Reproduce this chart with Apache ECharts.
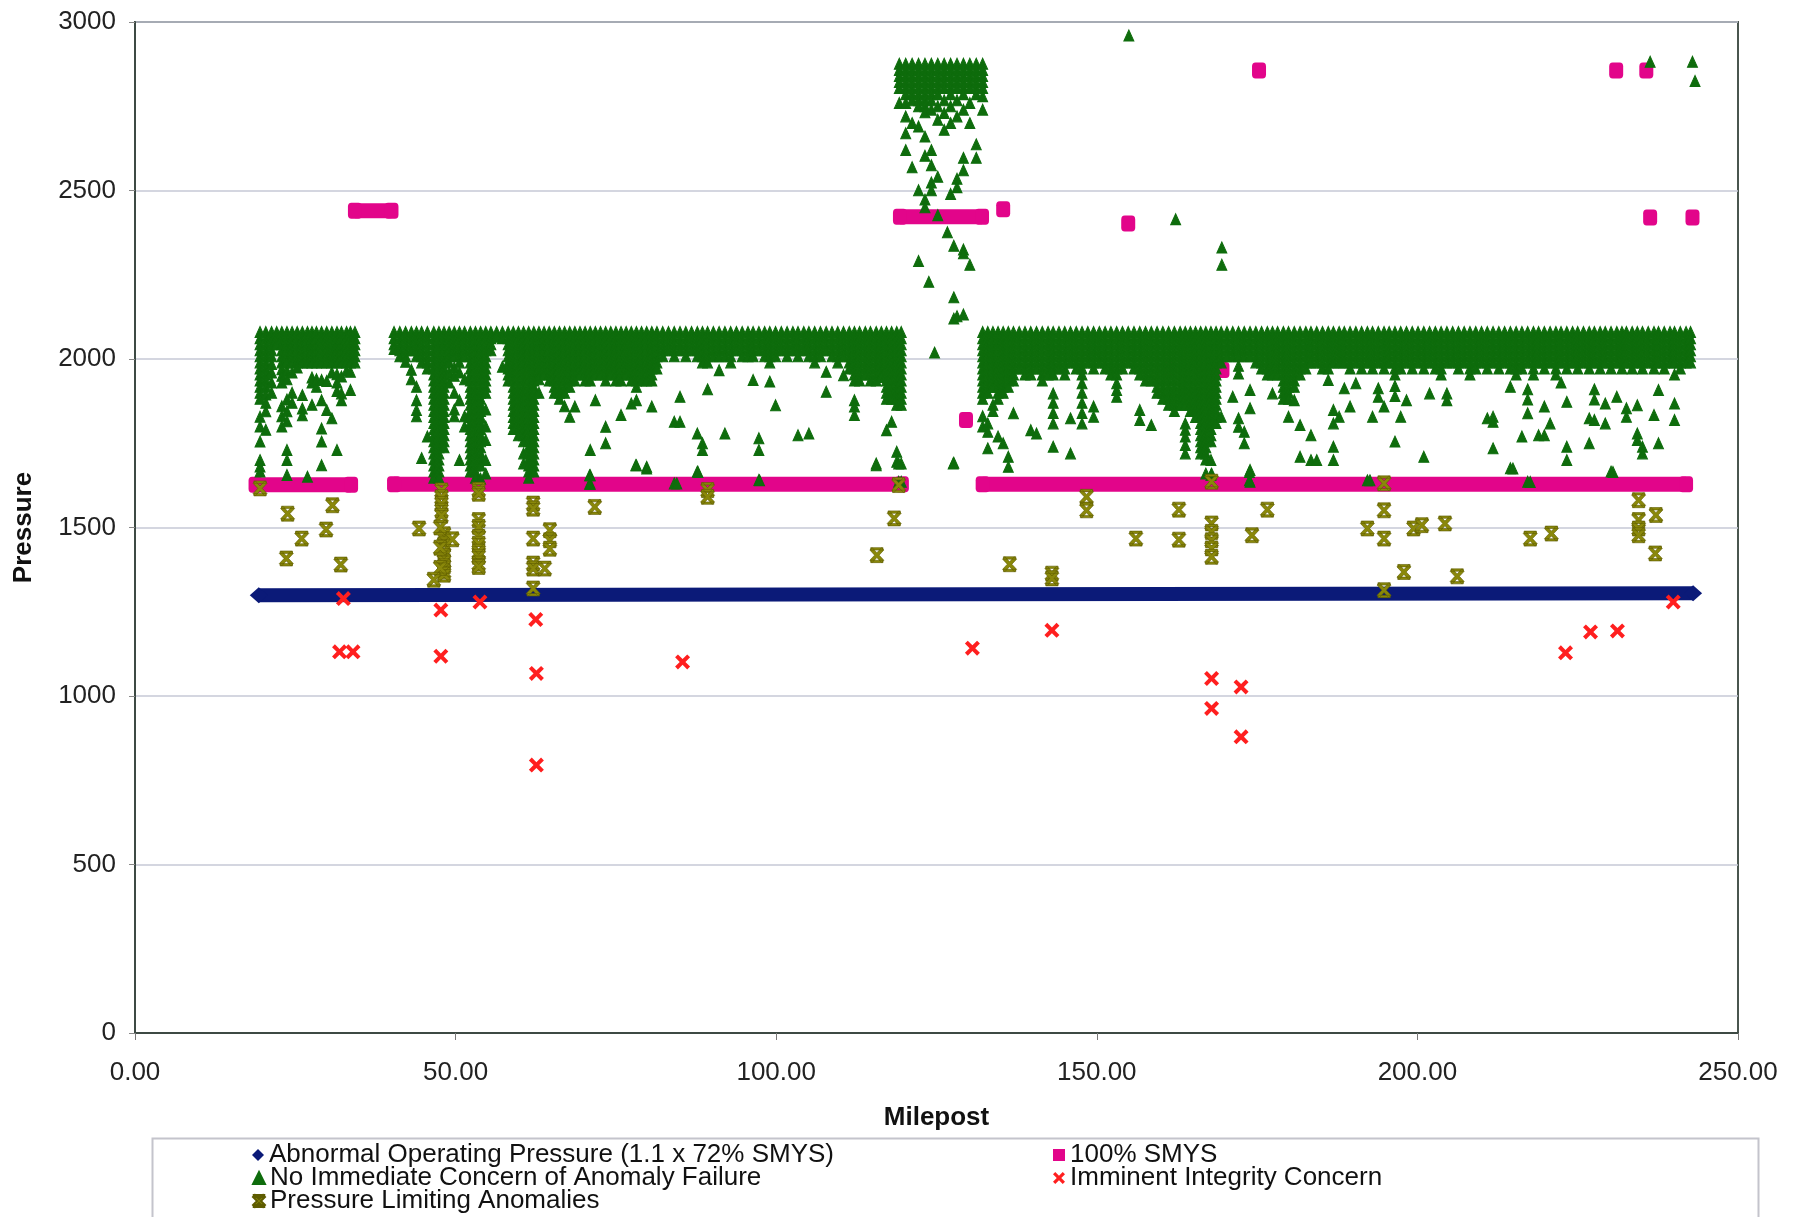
<!DOCTYPE html>
<html><head><meta charset="utf-8">
<script src="https://cdn.jsdelivr.net/npm/echarts@6/dist/echarts.min.js"></script>
<style>html,body{margin:0;padding:0;background:#fff}#c{width:1803px;height:1217px}</style>
</head><body><div id="c"></div>
<script>
// ---------- axis ticks ----------
const xTicks = [0, 50, 100, 150, 200, 250];
const yTicks = [0, 500, 1000, 1500, 2000, 2500, 3000];

// ---------- Abnormal Operating Pressure (1.1 x 72% SMYS) : continuous band ----------
const aopMilepost = [19.3, 243.0];
const aopPressure = [1299, 1305];

// ---------- 100% SMYS ----------
// continuous runs: [startMilepost, endMilepost, pressure]
const smysRuns = [[18.8, 33.7, 1627], [40.4, 119.6, 1628], [132.2, 241.9, 1628], [34.3, 40.0, 2440], [119.3, 132.1, 2422]];
// isolated points
const smysMilepost = [129.6, 135.4, 154.9, 175.3, 231.0, 235.7, 236.3, 242.9, 161.4, 169.6];
const smysPressure = [1819, 2444, 2402, 2856, 2856, 2856, 2420, 2420, 1967, 1967];

// ---------- No Immediate Concern of Anomaly Failure (columns: [milepost, pressures...]) ----------
const greenSec1 = [
[19.5,2080,2062,2044,2026,2008,1990,1972,1954,1936,1918,1900,1882,1829,1800,1755,1700,1681,1666],
[20.4,2080,2062,2044,2026,2008,1990,1972,1954,1936,1918,1895,1870,1845,1790],
[21.3,2080,2062,2044,2026,2008,1985,1960,1930,1900],
[22.1,2080,2062,2044],
[22.9,2080,2062,2044,2026,2008,1990,1970,1950,1930,1860,1830,1800],
[23.7,2080,2062,2044,2026,2008,1990,1965,1940,1880,1845,1815,1730,1700,1656],
[24.5,2080,2062,2044,2026,2008,1990,1960,1900,1870],
[25.3,2080,2062,2044,2026,2008,1990,1975],
[26.1,2080,2062,2044,2026,2008,1990,1893,1853,1833],
[26.9,2080,2062,2044,2026,2008,1990,1651],
[27.6,2080,2062,2044,2026,2008,1990,1945,1930,1864],
[28.3,2080,2062,2044,2026,2008,1990,1940,1918],
[29.1,2080,2062,2044,2026,2008,1990,1938,1878,1794,1755,1685],
[29.9,2080,2062,2044,2026,2008,1990,1935,1849],
[30.7,2080,2062,2044,2026,2008,1990,1960,1824],
[31.5,2080,2062,2044,2026,2008,1990,1955,1930,1905,1730],
[32.2,2080,2062,2044,2026,2008,1990,1948,1898,1878],
[33.0,2080,2062,2044,2026,2008,1990,1965],
[33.6,2080,2062,2044,2026,2008,1990,1962,1908],
[34.3,2080,2062,2044,2026,2008,1990]
];
const greenSec2 = [
[40.4,2080,2062,2044,2030],
[41.3,2080,2062,2044,2026,2008],
[42.2,2080,2062,2044,2026,2008,1992],
[43.1,2080,2062,2044,2026,1968,1940],
[43.9,2080,2062,2044,2026,2008,1918,1878,1849,1830],
[44.7,2080,2062,2044,2026,2008,1990,1706],
[45.6,2080,2062,2044,2026,2008,1990,1972,1770],
[46.6,2080,2062,2044,2026,2008,1990,1972,1954,1936,1918,1900,1882,1864,1846,1828,1810,1792,1774,1756,1738,1720,1702,1684,1666,1648],
[47.4,2080,2062,2044,2026,2008,1990,1972,1954,1936,1918,1900,1882,1864,1846,1828,1810,1792,1774,1756,1738,1720,1702,1684,1666,1648],
[48.2,2080,2062,2044,2026,2008,1990,1972,1954,1936,1918,1900,1882,1864,1846,1828,1810,1792,1774,1756,1738],
[49.0,2080,2062,2044,2026,2008,1990,1960,1930],
[49.8,2080,2062,2044,2026,2008,1975,1950,1900,1850,1830],
[50.6,2080,2062,2044,2026,2008,1990,1960,1878,1700],
[51.4,2080,2062,2044,2026,2008,1940,1830,1800],
[52.3,2080,2062,2044,2026,2008,1990,1972,1954,1936,1918,1900,1882,1864,1846,1828,1810,1792,1774,1756,1738,1720,1702,1684,1666],
[53.1,2080,2062,2044,2026,2008,1990,1972,1954,1936,1918,1900,1882,1864,1846,1828,1810,1792,1774,1756,1738,1720,1702,1684,1666,1648],
[53.9,2080,2062,2044,2026,2008,1990,1972,1954,1936,1918,1900,1882,1864,1846,1828,1810,1792,1774,1756,1738,1720,1702,1684,1645],
[54.7,2080,2062,2044,2026,2008,1990,1972,1954,1936,1918,1900,1850,1800,1760,1700,1660],
[55.5,2080,2062,2044,2026],
[56.4,2080,2066],
[57.3,2080,2062,1977],
[58.2,2080,2062,2044,2026,2008,1990,1972,1954,1936],
[59.0,2080,2062,2044,2026,2008,1990,1972,1954,1936,1918,1900,1882,1864,1846,1828,1810,1792],
[59.8,2080,2062,2044,2026,2008,1990,1972,1954,1936,1918,1900,1882,1864,1846,1828,1810,1792,1774],
[60.6,2080,2062,2044,2026,2008,1990,1972,1954,1936,1918,1900,1882,1864,1846,1828,1810,1792,1774,1756,1720,1690],
[61.4,2080,2062,2044,2026,2008,1990,1972,1954,1936,1918,1900,1882,1864,1846,1828,1810,1792,1774,1756,1738,1720,1702,1684,1666,1648],
[62.2,2080,2062,2044,2026,2008,1990,1972,1954,1936,1918,1900,1882,1864,1846,1828,1810,1792,1774,1756,1738,1720,1702,1684,1666],
[63.0,2080,2062,2044,2026,2008,1990,1972,1954,1940,1900],
[63.8,2080,2062,2044,2026,2008,1990,1972,1954],
[64.6,2080,2062,2044,2026,2008,1990,1972,1954,1936],
[65.4,2080,2062,2044,2026,2008,1990,1972,1954,1936,1918,1900],
[66.2,2080,2062,2044,2026,2008,1990,1972,1954,1936,1918,1900,1882],
[67.0,2080,2062,2044,2026,2008,1990,1972,1954,1936,1918,1900,1860],
[67.8,2080,2062,2044,2026,2008,1990,1972,1954,1936,1918,1829],
[68.6,2080,2062,2044,2026,2008,1990,1972,1954,1936,1859],
[69.4,2080,2062,2044,2026,2008,1990,1972,1954],
[70.2,2080,2062,2044,2026,2008,1990,1972,1954,1936],
[71.0,2080,2062,2044,2026,2008,1990,1972,1954,1936,1730,1655,1630],
[71.8,2080,2062,2044,2026,2008,1990,1972,1954,1878],
[72.6,2080,2062,2044,2026,2008,1990,1972,1954],
[73.4,2080,2062,2044,2026,2008,1990,1972,1954,1936,1799,1750],
[74.2,2080,2062,2044,2026,2008,1990,1972,1954],
[75.0,2080,2062,2044,2026,2008,1990,1972,1954,1936],
[75.8,2080,2062,2044,2026,2008,1990,1972,1954,1936,1834],
[76.6,2080,2062,2044,2026,2008,1990,1972,1954],
[77.4,2080,2062,2044,2026,2008,1990,1972,1954,1936,1868],
[78.2,2080,2062,2044,2026,2008,1990,1972,1954,1936,1918,1878,1685],
[79.0,2080,2062,2044,2026,2008,1990,1972,1954,1936],
[79.8,2080,2062,2044,2026,2008,1990,1972,1954,1936,1680,1675],
[80.6,2080,2062,2044,2026,2008,1990,1972,1954,1936,1859],
[81.4,2080,2062,2044,2026,2008,1990,1972],
[82.3,2080,2062,2044,2026,2008],
[83.2,2080,2062,2044,2026],
[84.1,2080,2062,2044,2026,2008,1814,1631],
[85.0,2080,2062,2044,2026,1888,1814],
[85.9,2080,2062,2044,2026,2008],
[86.8,2080,2062,2044,2026],
[87.7,2080,2062,2044,2026,2008,1779,1666],
[88.5,2080,2062,2044,2026,2008,1990,1750,1730],
[89.3,2080,2062,2044,2026,2008,1990,1910],
[90.2,2080,2062,2044,2026,2008],
[91.1,2080,2062,2044,2026,2008,1967],
[92.0,2080,2062,2044,2026,2008,1779],
[92.9,2080,2062,2044,2026,2008,1990],
[93.8,2080,2062,2044,2026],
[94.7,2080,2062,2044,2026,2008],
[95.6,2080,2062,2044,2026,2008],
[96.4,2080,2062,2044,2026,2008,1938],
[97.3,2080,2062,2044,2026,1765,1730,1641],
[98.2,2080,2062,2044,2026,2008],
[99.0,2080,2062,2044,2026,2008,1990,1933],
[99.9,2080,2062,2044,2026,2008,1863],
[100.8,2080,2062,2044,2026],
[101.7,2080,2062,2044,2026,2008],
[102.6,2080,2062,2044,2026],
[103.4,2080,2062,2044,2026,2008,1774],
[104.3,2080,2062,2044,2026],
[105.1,2080,2062,2044,2026,2008,1779],
[106.0,2080,2062,2044,2026,2008,1990],
[106.9,2080,2062,2044,2026,2008],
[107.8,2080,2062,2044,2026,1962,1903],
[108.7,2080,2062,2044,2026,2008],
[109.6,2080,2062,2044,2026,2008,1990],
[110.5,2080,2062,2044,2026,2008,1952],
[111.4,2080,2062,2044,2026,2008,1990,1972],
[112.2,2080,2062,2044,2026,2008,1990,1972,1954,1936,1878,1859,1834],
[113.0,2080,2062,2044,2026,2008,1990,1972,1954,1936],
[113.9,2080,2062,2044,2026,2008,1990,1972,1954],
[114.7,2080,2062,2044,2026,2008,1990,1972,1954,1936],
[115.6,2080,2062,2044,2026,2008,1990,1972,1954,1936,1690,1685],
[116.4,2080,2062,2044,2026,2008,1990,1972,1954,1947],
[117.2,2080,2062,2044,2026,2008,1990,1972,1954,1936,1918,1900,1882,1789],
[118.0,2080,2062,2044,2026,2008,1990,1972,1954,1936,1918,1900,1882,1814],
[118.8,2080,2062,2044,2026,2008,1990,1972,1954,1936,1918,1900,1882,1864,1725,1695],
[119.5,2080,2062,2044,2026,2008,1990,1972,1954,1936,1918,1900,1882,1864,1690,1636]
];
const greenPeak = [
[119.2,2876,2858,2840,2822,2804,2760],
[120.2,2876,2858,2840,2822,2804,2786,2760,2720,2670,2620],
[121.2,2876,2858,2840,2822,2804,2786,2768,2700,2569],
[122.2,2876,2858,2840,2822,2804,2786,2768,2750,2690,2501,2291],
[123.2,2876,2858,2840,2822,2804,2786,2768,2750,2732,2660,2603,2473,2450],
[123.8,2229],
[124.2,2876,2858,2840,2822,2804,2786,2768,2740,2620,2575,2524,2501],
[124.7,2019],
[125.2,2876,2858,2840,2822,2804,2786,2750,2710,2541,2427],
[126.2,2876,2858,2840,2822,2804,2768,2730,2680],
[126.7,2376],
[127.2,2876,2858,2840,2822,2804,2786,2750,2700,2490],
[127.7,2336,2183,2120,1692],
[128.2,2876,2858,2840,2822,2804,2768,2720,2535,2510,2127],
[129.2,2876,2858,2840,2822,2804,2786,2740,2597,2560,2325,2314,2132],
[130.2,2876,2858,2840,2822,2804,2760,2700,2280],
[131.2,2876,2858,2840,2822,2804,2786,2637,2597],
[132.2,2876,2858,2840,2822,2804,2780,2740]
];
const greenSec3 = [
[132.2,2080,2062,2044,2026,2008,1990,1972,1954,1936,1918,1900,1882,1830,1800],
[133.0,2080,2062,2044,2026,2008,1990,1972,1954,1936,1918,1900,1809,1784,1735],
[133.8,2080,2062,2044,2026,2008,1990,1972,1954,1936,1918,1864,1846],
[134.6,2080,2062,2044,2026,2008,1990,1972,1954,1936,1918,1900,1882,1770],
[135.4,2080,2062,2044,2026,2008,1990,1972,1954,1936,1918,1900,1750],
[136.2,2080,2062,2044,2026,2008,1990,1972,1954,1936,1918,1710,1680],
[137.0,2080,2062,2044,2026,2008,1990,1972,1954,1936,1839],
[137.9,2080,2062,2044,2026,2008,1990,1972],
[138.8,2080,2062,2044,2026,2008,1990,1972,1954],
[139.7,2080,2062,2044,2026,2008,1990,1972,1954,1789],
[140.6,2080,2062,2044,2026,2008,1990,1972,1779],
[141.5,2080,2062,2044,2026,2008,1990,1972,1954,1936],
[142.4,2080,2062,2044,2026,2008,1990,1972,1954],
[143.2,2080,2062,2044,2026,2008,1990,1972,1954,1898,1870,1840,1809,1740],
[144.1,2080,2062,2044,2026,2008,1990,1972],
[145.0,2080,2062,2044,2026,2008,1990,1972,1954],
[145.9,2080,2062,2044,2026,2008,1990,1824,1720],
[146.8,2080,2062,2044,2026,2008,1990,1972],
[147.7,2080,2062,2044,2026,2008,1990,1972,1954,1928,1900,1870,1840,1809],
[148.6,2080,2062,2044,2026,2008,1990],
[149.5,2080,2062,2044,2026,2008,1990,1972,1859,1829],
[150.4,2080,2062,2044,2026,2008,1990],
[151.3,2080,2062,2044,2026,2008,1990,1972],
[152.2,2080,2062,2044,2026,2008,1990,1972,1954],
[153.1,2080,2062,2044,2026,2008,1990,1972,1954,1928,1908,1888],
[154.0,2080,2062,2044,2026,2008,1990,1972],
[154.9,2080,2062,2044,2026,2008,1990],
[155.8,2080,2062,2044,2026,2008,1990,1972],
[156.7,2080,2062,2044,2026,2008,1990,1972,1954,1849,1819],
[157.6,2080,2062,2044,2026,2008,1990,1972,1954,1936],
[158.5,2080,2062,2044,2026,2008,1990,1972,1954,1936,1804],
[159.4,2080,2062,2044,2026,2008,1990,1972,1954,1936,1918,1900],
[160.3,2080,2062,2044,2026,2008,1990,1972,1954,1936,1918,1900,1882],
[161.2,2080,2062,2044,2026,2008,1990,1972,1954,1936,1918,1900,1882,1864],
[162.1,2080,2062,2044,2026,2008,1990,1972,1954,1936,1918,1900,1882,1864,1846],
[163.0,2080,2062,2044,2026,2008,1990,1972,1954,1936,1918,1900,1882,1864],
[163.8,2080,2062,2044,2026,2008,1990,1972,1954,1936,1918,1900,1882,1864,1809,1790,1770,1745,1720],
[164.6,2080,2062,2044,2026,2008,1990,1972,1954,1936,1918,1900,1882,1864,1846],
[165.4,2080,2062,2044,2026,2008,1990,1972,1954,1936,1918,1900,1882,1864,1846,1828],
[166.2,2080,2062,2044,2026,2008,1990,1972,1954,1936,1918,1900,1882,1864,1846,1828,1810,1792,1774,1756,1738,1720],
[167.0,2080,2062,2044,2026,2008,1990,1972,1954,1936,1918,1900,1882,1864,1846,1828,1810,1792,1774,1756,1738,1720,1702,1660],
[167.8,2080,2062,2044,2026,2008,1990,1972,1954,1936,1918,1900,1882,1864,1846,1828,1810,1792,1774,1756,1700,1656],
[168.6,2080,2062,2044,2026,2008,1990,1972,1954,1936,1918,1900,1882,1864,1846,1828,1810],
[169.4,2080,2062,2044,2026,2008,1990,1829],
[170.3,2080,2062,2044,2026,2008],
[171.2,2080,2062,2044,2026,2008,1888],
[172.1,2080,2062,2044,2026,2008,1980,1957,1824,1799],
[173.0,2080,2062,2044,2026,2008,1784,1750],
[173.9,2080,2062,2044,2026,2008,1908,1854,1671,1636],
[174.8,2080,2062,2044,2026,2008,1990],
[175.7,2080,2062,2044,2026,2008,1990,1972],
[176.6,2080,2062,2044,2026,2008,1990,1972,1954],
[177.4,2080,2062,2044,2026,2008,1990,1972,1954,1898],
[178.2,2080,2062,2044,2026,2008,1990,1972,1954],
[179.1,2080,2062,2044,2026,2008,1990,1972,1954,1936,1918,1900,1882],
[179.9,2080,2062,2044,2026,2008,1990,1972,1954,1936,1918,1900,1882,1829],
[180.8,2080,2062,2044,2026,2008,1990,1972,1954,1936,1918,1878],
[181.7,2080,2062,2044,2026,2008,1990,1972,1954,1804,1710],
[182.6,2080,2062,2044,2026,2008,1990,1972],
[183.4,2080,2062,2044,2026,2008,1990,1774,1700],
[184.3,2080,2062,2044,2026,2008,1990,1700],
[185.2,2080,2062,2044,2026,2008,1990,1972],
[186.1,2080,2062,2044,2026,2008,1990,1972,1938],
[186.9,2080,2062,2044,2026,2008,1990,1849,1809,1740,1700],
[187.8,2080,2062,2044,2026,2008,1990,1829],
[188.6,2080,2062,2044,2026,2008,1990,1913],
[189.5,2080,2062,2044,2026,2008,1990,1972,1859],
[190.4,2080,2062,2044,2026,2008,1990,1928],
[191.3,2080,2062,2044,2026,2008,1990,1972],
[192.2,2080,2062,2044,2026,2008,1990,1640],
[193.0,2080,2062,2044,2026,2008,1990,1972,1829],
[193.9,2080,2062,2044,2026,2008,1990,1913,1888],
[194.8,2080,2062,2044,2026,2008,1990,1972,1859],
[195.6,2080,2062,2044,2026,2008,1990],
[196.5,2080,2062,2044,2026,2008,1990,1972,1954,1920,1890,1755],
[197.4,2080,2062,2044,2026,2008,1990,1972,1829],
[198.3,2080,2062,2044,2026,2008,1990,1878],
[199.2,2080,2062,2044,2026,2008,1990,1972],
[200.1,2080,2062,2044,2026,2008,1990],
[201.0,2080,2062,2044,2026,2008,1990,1972,1710],
[201.9,2080,2062,2044,2026,2008,1990,1898],
[202.8,2080,2062,2044,2026,2008,1990,1972],
[203.7,2080,2062,2044,2026,2008,1990,1972,1954],
[204.6,2080,2062,2044,2026,2008,1990,1898,1878],
[205.5,2080,2062,2044,2026,2008,1990],
[206.4,2080,2062,2044,2026,2008,1990,1972],
[207.3,2080,2062,2044,2026,2008,1990],
[208.2,2080,2062,2044,2026,2008,1990,1972,1954],
[209.1,2080,2062,2044,2026,2008,1990,1972],
[210.0,2080,2062,2044,2026,2008,1990],
[210.9,2080,2062,2044,2026,2008,1990,1972,1824],
[211.8,2080,2062,2044,2026,2008,1990,1829,1814,1735],
[212.7,2080,2062,2044,2026,2008,1990,1972],
[213.6,2080,2062,2044,2026,2008,1990],
[214.5,2080,2062,2044,2026,2008,1990,1972,1918,1676],
[215.4,2080,2062,2044,2026,2008,1990,1972,1954],
[216.3,2080,2062,2044,2026,2008,1990,1972,1770],
[217.2,2080,2062,2044,2026,2008,1990,1910,1880,1839,1636],
[218.1,2080,2062,2044,2026,2008,1990,1972,1954],
[218.9,2080,2062,2044,2026,2008,1990,1774],
[219.8,2080,2062,2044,2026,2008,1990,1972,1859,1774],
[220.7,2080,2062,2044,2026,2008,1990,1809],
[221.6,2080,2062,2044,2026,2008,1990,1972,1954],
[222.4,2080,2062,2044,2026,2008,1990,1930],
[223.3,2080,2062,2044,2026,2008,1990,1972,1873,1740,1700],
[224.2,2080,2062,2044,2026,2008,1990],
[225.0,2080,2062,2044,2026,2008,1990,1972],
[225.9,2080,2062,2044,2026,2008,1990],
[226.8,2080,2062,2044,2026,2008,1990,1972,1824,1750],
[227.6,2080,2062,2044,2026,2008,1990,1910,1880,1819],
[228.5,2080,2062,2044,2026,2008,1990,1972],
[229.3,2080,2062,2044,2026,2008,1990,1868,1809],
[230.2,2080,2062,2044,2026,2008,1990,1972,1666],
[231.1,2080,2062,2044,2026,2008,1990,1888],
[231.9,2080,2062,2044,2026,2008,1990,1972],
[232.6,2080,2062,2044,2026,2008,1990,1854,1829],
[233.5,2080,2062,2044,2026,2008,1990,1972],
[234.3,2080,2062,2044,2026,2008,1990,1863,1779,1760],
[235.1,2080,2062,2044,2026,2008,1990,1972,1740,1720],
[236.0,2080,2062,2044,2026,2008,1990],
[236.9,2080,2062,2044,2026,2008,1990,1972,1834],
[237.6,2080,2062,2044,2026,2008,1990,1908,1750],
[238.5,2080,2062,2044,2026,2008,1990,1972],
[239.4,2080,2062,2044,2026,2008,1990],
[240.1,2080,2062,2044,2026,2008,1990,1954,1868,1819],
[241.0,2080,2062,2044,2026,2008,1990,1972],
[241.9,2080,2062,2044,2026,2008,1990],
[242.6,2080,2062,2044,2026,2008,1990]
];
const greenOutliers = [
[155.0,2960],[162.3,2415],[169.5,2331,2280],[236.3,2882],[242.9,2882],[243.3,2825],
[167.9,1660],[173.8,1665,1640],[192.6,1640],[214.9,1675],[217.6,1635],[230.5,1665],
[70.9,1655,1630],[78.1,1685],[84.5,1631],[87.8,1665],[97.4,1640],[119.1,1690,1636],[127.6,1690]
];

// ---------- Pressure Limiting Anomalies ----------
const plMilepost = [19.5,23.8,26.0,23.6,30.8,29.8,32.1,44.3,
 47.8,47.8,47.8,47.8,47.8,48.2,48.2,48.2,48.2,48.2,48.2,48.2,48.2,48.2,47.6,47.6,47.6,49.5,46.6,
 53.6,53.6,53.6,53.6,53.6,53.6,53.6,53.6,53.6,53.6,
 62.1,62.1,62.1,62.1,62.1,62.1,64.7,64.7,64.7,63.9,71.7,89.3,89.3,115.7,118.4,119.1,
 136.4,143.0,143.0,148.4,148.4,156.1,162.8,162.8,167.9,167.9,167.9,167.9,167.9,167.9,
 174.2,176.6,192.2,194.8,194.8,194.8,194.8,197.9,199.4,200.7,204.3,206.2,217.6,220.9,
 234.5,234.5,234.5,234.5,237.2,237.1];
const plPressure = [1616,1541,1467,1408,1566,1494,1390,1497,
 1610,1590,1570,1550,1535,1480,1465,1450,1430,1415,1400,1385,1370,1360,1500,1440,1380,1465,1345,
 1612,1600,1522,1502,1472,1452,1428,1413,1393,1383,
 1571,1556,1467,1393,1378,1319,1492,1462,1437,1378,1561,1611,1591,1418,1527,1626,
 1391,1363,1349,1591,1551,1467,1553,1464,1636,1512,1487,1462,1438,1413,
 1477,1553,1497,1631,1551,1467,1314,1368,1497,1507,1512,1355,1467,1482,
 1581,1522,1497,1477,1537,1423];

// ---------- Imminent Integrity Concern ----------
const iicMilepost = [32.5,31.9,34.0,47.7,53.8,47.7,62.5,62.6,62.6,85.4,130.6,143.0,167.9,167.9,172.5,172.5,223.1,227.0,231.2,239.9];
const iicPressure = [1289,1131,1131,1255,1279,1118,1227,1067,795,1101,1142,1195,1052,963,1027,879,1128,1190,1193,1279];

// ---------- build ----------
function flattenCols(cols){const out=[];cols.forEach(c=>{for(let i=1;i<c.length;i++)out.push([c[0],c[i]]);});return out;}
function zip(a,b){return a.map((v,i)=>[v,b[i]]);}
const greenData = flattenCols([].concat(greenSec1,greenSec2,greenPeak,greenSec3,greenOutliers));

const NAVY='#0b1a78', PINK='#e2058a', GREEN='#0e6c0c', OLIVE='#8a880a', RED='#ff1f1f';
const X_PATH='path://M0,1.9L1.9,0L5,3.1L8.1,0L10,1.9L6.9,5L10,8.1L8.1,10L5,6.9L1.9,10L0,8.1L3.1,5Z';
const PL_PATH='path://M0.6,0L9.4,0L9.4,1.6L0.6,1.6Z M0.6,8.4L9.4,8.4L9.4,10L0.6,10Z M0,1.6L1.6,0L5,3.4L8.4,0L10,1.6L6.6,5L10,8.4L8.4,10L5,6.6L1.6,10L0,8.4L3.4,5Z';

const N_AOP='Abnormal Operating Pressure (1.1 x 72% SMYS)';
const N_SMYS='100% SMYS';
const N_GREEN='No Immediate Concern of Anomaly Failure';
const N_PL='Pressure Limiting Anomalies';
const N_IIC='Imminent Integrity Concern';

const series=[];
series.push({name:N_AOP,type:'line',data:zip(aopMilepost,aopPressure),symbol:'diamond',symbolSize:[18,16],showSymbol:true,
  lineStyle:{color:NAVY,width:14},itemStyle:{color:NAVY,opacity:1},z:1,silent:true});
series.push({name:N_SMYS,type:'scatter',data:zip(smysMilepost,smysPressure),symbol:'roundRect',symbolSize:[14,16],itemStyle:{color:PINK,opacity:1},z:2,silent:true});
smysRuns.forEach(r=>{
  series.push({name:N_SMYS,type:'line',data:[[r[0],r[2]],[r[1],r[2]]],symbol:'roundRect',symbolSize:[14,16],showSymbol:true,
    lineStyle:{color:PINK,width:15},itemStyle:{color:PINK,opacity:1},z:2,silent:true});
});
series.push({name:N_GREEN,type:'scatter',data:greenData,symbol:'triangle',symbolSize:[10,11],itemStyle:{color:GREEN,borderColor:GREEN,borderWidth:1,opacity:1},z:3,silent:true});
series.push({name:N_PL,type:'scatter',data:zip(plMilepost,plPressure),symbol:PL_PATH,symbolSize:[14,15],itemStyle:{color:OLIVE,borderColor:'#5e5c00',borderWidth:0.6,opacity:1},z:4,silent:true});
series.push({name:N_IIC,type:'scatter',data:zip(iicMilepost,iicPressure),symbol:X_PATH,symbolSize:[15,15],itemStyle:{color:RED,opacity:1},z:5,silent:true});

const FONT='"Liberation Sans", Arial, sans-serif';
const legendText={color:'#111',fontSize:26,fontFamily:FONT,lineHeight:26};
function legendRow(name,icon,left,top){
  return {orient:'horizontal',left:left,top:top,padding:0,itemGap:0,itemWidth:12,itemHeight:12,textStyle:legendText,selectedMode:false,
    data:[{name:name,icon:icon}]};
}

const chart=echarts.init(document.getElementById('c'),null,{renderer:'canvas'});
chart.setOption({
  animation:false,
  backgroundColor:'#ffffff',
  grid:{left:135,right:65,top:22,bottom:184,show:true,borderColor:'#4a564f',borderWidth:2,backgroundColor:'transparent'},
  xAxis:{type:'value',min:xTicks[0],max:xTicks[xTicks.length-1],interval:xTicks[1]-xTicks[0],
    name:'Milepost',nameLocation:'middle',nameGap:72,
    nameTextStyle:{fontSize:26,fontWeight:'bold',color:'#111',fontFamily:FONT},
    axisLine:{show:true,lineStyle:{color:'#3d4a44',width:2}},
    axisTick:{show:true,length:7,lineStyle:{color:'#777'}},
    axisLabel:{margin:27,fontSize:26,color:'#222',fontFamily:FONT,formatter:v=>v.toFixed(2)},
    splitLine:{show:false}},
  yAxis:{type:'value',min:yTicks[0],max:yTicks[yTicks.length-1],interval:yTicks[1]-yTicks[0],
    name:'Pressure',nameLocation:'middle',nameRotate:90,nameGap:98,
    nameTextStyle:{fontSize:26,fontWeight:'bold',color:'#111',fontFamily:FONT},
    axisLine:{show:true,lineStyle:{color:'#3d4a44',width:2}},
    axisTick:{show:true,length:6,lineStyle:{color:'#888'}},
    axisLabel:{margin:19,fontSize:26,color:'#222',fontFamily:FONT,formatter:v=>String(v)},
    splitLine:{show:true,lineStyle:{color:'#c6c8d6',width:1.5}}},
  legend:[
    legendRow(N_AOP,'diamond',252,1142),
    legendRow(N_GREEN,'triangle',252,1165),
    legendRow(N_PL,PL_PATH,252,1188),
    legendRow(N_SMYS,'rect',1053,1142),
    legendRow(N_IIC,X_PATH,1053,1165)
  ],
  graphic:[{type:'rect',left:150,top:1136,z:-1,shape:{width:1606,height:110},style:{fill:'none',stroke:'#c4c4cc',lineWidth:2}}],
  series:series
});
</script></body></html>
